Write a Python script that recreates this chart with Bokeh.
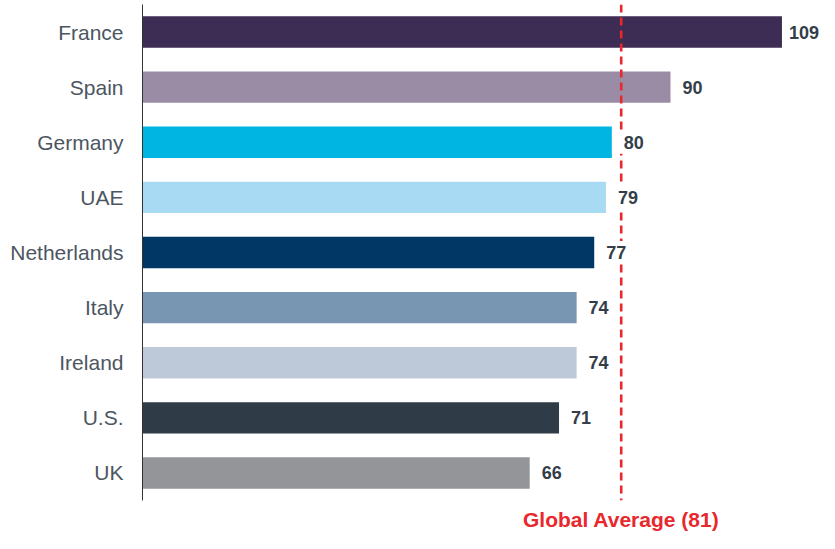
from bokeh.plotting import figure
from bokeh.models import ColumnDataSource, FactorRange, Range1d, Span, FixedTicker
from bokeh.core.properties import value
from bokeh.embed import file_html
from bokeh.resources import INLINE

countries = ["France", "Spain", "Germany", "UAE", "Netherlands", "Italy", "Ireland", "U.S.", "UK"]
values = [109, 90, 80, 79, 77, 74, 74, 71, 66]
colors = ["#3d2c54", "#9b8ca6", "#00b5e2", "#a8dbf3", "#003764",
          "#7896b1", "#bdc9d8", "#2f3c47", "#939598"]
value_labels = [str(v) for v in values]
global_avg_label = "Global Average (81)"
global_avg_line = 81.6  # position of the dashed line

src = ColumnDataSource(dict(country=countries, value=values, color=colors, label=value_labels))

p = figure(width=819, height=533, output_backend="svg", toolbar_location=None,
           y_range=FactorRange(factors=list(reversed(countries)), range_padding=0),
           x_range=Range1d(0, 115.4),
           min_border_left=142, min_border_right=0, min_border_top=4, min_border_bottom=33)

p.hbar(y="country", right="value", left=0, height=0.57, color="color", source=src, line_color=None)

p.add_layout(Span(location=global_avg_line, dimension="height", line_color="#e8282c",
                  line_width=2.6, line_dash="8 5"))

p.text(x="value", y="country", text="label", source=src, x_offset=22,
       text_baseline="middle", text_align="center", text_font_size="18px",
       text_font_style="bold", text_color="#333e48", text_font=value("Liberation Sans"),
       background_fill_color="white", padding=5, level="overlay")

# x axis used only to carry the "Global Average" label under the dashed line
xax = p.xaxis[0]
xax.ticker = FixedTicker(ticks=[global_avg_line])
xax.major_label_overrides = {global_avg_line: global_avg_label}
xax.axis_line_color = None
xax.major_tick_line_color = None
xax.minor_tick_line_color = None
xax.major_tick_out = 0
xax.major_tick_in = 0
xax.major_label_standoff = 7
xax.major_label_text_font = "Liberation Sans"
xax.major_label_text_font_size = "21px"
xax.major_label_text_font_style = "bold"
xax.major_label_text_color = "#e8282c"

p.xgrid.visible = False
p.ygrid.visible = False
p.outline_line_color = None
yax = p.yaxis[0]
yax.major_tick_line_color = None
yax.minor_tick_line_color = None
yax.major_tick_out = 0
yax.major_tick_in = 0
yax.axis_line_color = "#333333"
yax.axis_line_width = 1
yax.major_label_standoff = 19
yax.major_label_text_font = "Liberation Sans"
yax.major_label_text_font_size = "21px"
yax.major_label_text_color = "#4c5661"

open("out.html", "w").write(file_html(p, INLINE))
